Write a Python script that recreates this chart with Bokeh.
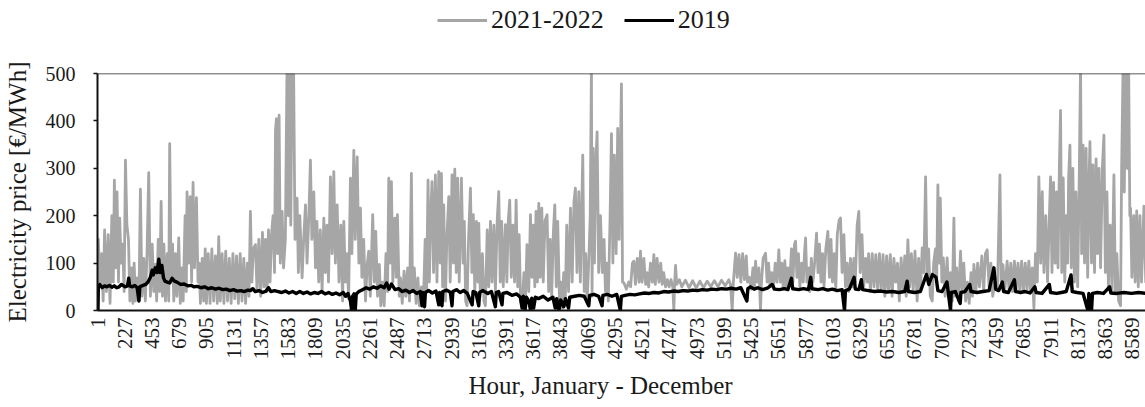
import math
from bokeh.plotting import figure
from bokeh.layouts import column
from bokeh.models import Range1d, FixedTicker, Legend, LegendItem, Span, Title
from bokeh.embed import file_html
from bokeh.resources import INLINE

# ---------------- data ----------------
x_ticks = [1, 227, 453, 679, 905, 1131, 1357, 1583, 1809, 2035, 2261, 2487, 2713,
           2939, 3165, 3391, 3617, 3843, 4069, 4295, 4521, 4747, 4973, 5199, 5425,
           5651, 5877, 6103, 6329, 6555, 6781, 7007, 7233, 7459, 7685, 7911, 8137,
           8363, 8589]
y_ticks = [0, 100, 200, 300, 400, 500]
series_names = ["2021-2022", "2019"]

# 2021-2022 hourly price (hour, EUR/MWh), estimated peaks and troughs
price_2021_2022 = [
    (1, 30), (8, 150), (20, 60), (35, 120), (48, 20), (60, 170), (75, 40), (90, 160), (105, 15),
    (120, 200), (132, 60), (141, 275), (152, 90), (163, 250), (175, 60), (185, 195), (197, 100),
    (210, 140), (222, 40), (233, 317), (245, 180), (258, 150), (270, 20), (283, 90), (295, 15),
    (305, 100), (316, 20), (330, 69), (345, 20), (357, 256), (370, 30), (385, 110), (398, 20),
    (412, 120), (426, 291), (440, 30), (455, 140), (468, 40), (480, 97), (492, 20), (505, 150),
    (517, 40), (529, 230), (540, 30), (552, 140), (565, 20), (580, 120), (592, 20), (600, 352),
    (612, 60), (624, 140), (634, 20), (648, 120), (660, 30), (675, 153), (688, 15), (700, 90),
    (712, 20), (728, 200), (738, 40), (744, 250), (756, 100), (770, 240), (782, 60), (794, 270),
    (806, 90), (822, 238), (835, 60), (845, 100), (855, 15), (870, 110), (882, 20), (895, 130),
    (905, 15), (920, 120), (935, 15), (950, 130), (965, 20), (980, 115), (995, 15), (1007, 156),
    (1020, 20), (1035, 120), (1050, 15), (1065, 125), (1080, 20), (1095, 110), (1110, 15),
    (1125, 120), (1140, 25), (1155, 115), (1170, 15), (1185, 120), (1200, 20), (1215, 110),
    (1230, 15), (1245, 100), (1258, 30), (1270, 209), (1282, 60), (1295, 130), (1312, 139),
    (1325, 40), (1340, 150), (1355, 30), (1370, 165), (1383, 50), (1395, 150), (1408, 40),
    (1420, 170), (1433, 60), (1445, 160), (1458, 200), (1470, 80), (1478, 380), (1486, 405),
    (1495, 120), (1508, 412), (1518, 100), (1533, 209), (1545, 90), (1560, 150), (1574, 520),
    (1585, 200), (1595, 520), (1605, 180), (1615, 520), (1628, 520), (1640, 150), (1657, 237),
    (1668, 80), (1680, 200), (1699, 69), (1712, 150), (1727, 223), (1740, 100), (1755, 200),
    (1768, 317), (1780, 150), (1796, 250), (1810, 90), (1822, 188), (1837, 60), (1850, 170),
    (1865, 40), (1879, 195), (1892, 80), (1905, 180), (1918, 60), (1934, 282), (1948, 120),
    (1962, 293), (1975, 100), (1990, 223), (2005, 60), (2020, 180), (2035, 20), (2045, 188),
    (2058, 60), (2072, 120), (2085, 25), (2100, 279), (2112, 120), (2128, 338), (2140, 150),
    (2156, 324), (2170, 100), (2183, 216), (2195, 70), (2210, 150), (2225, 20), (2240, 100),
    (2252, 125), (2265, 30), (2285, 202), (2298, 60), (2310, 167), (2325, 30), (2340, 97),
    (2352, 10), (2365, 60), (2380, 10), (2395, 120), (2408, 40), (2418, 279), (2430, 100),
    (2440, 272), (2452, 60), (2468, 195), (2480, 70), (2490, 202), (2505, 30), (2515, 69),
    (2530, 15), (2545, 83), (2560, 30), (2575, 90), (2590, 20), (2606, 289), (2615, 40),
    (2630, 90), (2645, 15), (2660, 69), (2672, 10), (2690, 50), (2705, 10), (2720, 150),
    (2732, 40), (2744, 275), (2755, 60), (2766, 200), (2777, 272), (2790, 80), (2805, 286),
    (2818, 60), (2833, 293), (2845, 100), (2855, 289), (2865, 50), (2874, 223), (2888, 20),
    (2900, 150), (2916, 240), (2928, 60), (2943, 286), (2955, 100), (2966, 298), (2978, 80),
    (2990, 279), (3003, 60), (3021, 279), (3035, 100), (3045, 188), (3056, 20), (3068, 10),
    (3080, 150), (3096, 258), (3108, 80), (3120, 202), (3132, 40), (3145, 188), (3158, 60),
    (3165, 184), (3178, 30), (3195, 120), (3208, 20), (3220, 10), (3235, 170), (3248, 50),
    (3262, 188), (3275, 60), (3290, 180), (3303, 40), (3318, 190), (3331, 251), (3343, 60),
    (3355, 188), (3368, 50), (3386, 181), (3398, 60), (3410, 190), (3422, 233), (3435, 70),
    (3448, 180), (3462, 60), (3475, 233), (3488, 50), (3500, 160), (3512, 20), (3525, 5),
    (3540, 80), (3553, 20), (3565, 139), (3580, 40), (3594, 202), (3606, 70), (3618, 180),
    (3630, 50), (3640, 209), (3652, 60), (3663, 226), (3675, 70), (3688, 216), (3700, 60),
    (3715, 190), (3732, 202), (3745, 40), (3758, 150), (3770, 30), (3785, 170), (3796, 223),
    (3808, 50), (3820, 188), (3835, 20), (3845, 60), (3856, 5), (3870, 80), (3882, 10),
    (3895, 180), (3910, 40), (3926, 216), (3940, 60), (3955, 230), (3967, 258), (3980, 80),
    (3995, 251), (4008, 60), (4028, 328), (4040, 40), (4052, 120), (4064, 15), (4080, 120),
    (4090, 200), (4100, 520), (4105, 30), (4115, 342), (4125, 100), (4135, 300), (4147, 377),
    (4160, 80), (4175, 200), (4190, 80), (4205, 150), (4216, 40), (4228, 100), (4240, 20),
    (4255, 200), (4266, 373), (4278, 100), (4290, 328), (4305, 120), (4318, 384), (4330, 150),
    (4338, 300), (4349, 478), (4358, 60), (4370, 58), (4390, 45), (4410, 60), (4425, 50),
    (4440, 100), (4452, 104), (4465, 55), (4480, 110), (4495, 60), (4507, 125), (4520, 60),
    (4535, 110), (4550, 55), (4562, 80), (4575, 50), (4590, 100), (4605, 60), (4618, 118),
    (4630, 55), (4645, 110), (4660, 60), (4675, 100), (4687, 55), (4700, 80), (4715, 50),
    (4730, 65), (4745, 50), (4760, 65), (4775, 50), (4784, 0), (4790, 55), (4798, 95),
    (4808, 55), (4830, 65), (4850, 50), (4880, 64), (4910, 48), (4940, 63), (4970, 47),
    (5000, 62), (5030, 48), (5060, 62), (5090, 50), (5120, 63), (5150, 50), (5180, 64),
    (5210, 52), (5240, 65), (5254, 55), (5268, 0), (5278, 60), (5296, 121), (5310, 70),
    (5325, 118), (5340, 60), (5355, 120), (5370, 65), (5385, 115), (5395, 60), (5410, 70),
    (5425, 45), (5440, 90), (5452, 50), (5462, 104), (5475, 60), (5490, 90), (5503, 0),
    (5510, 55), (5525, 110), (5545, 121), (5558, 60), (5570, 100), (5582, 50), (5595, 80),
    (5610, 45), (5625, 100), (5640, 60), (5655, 128), (5668, 60), (5680, 100), (5692, 45),
    (5705, 105), (5718, 50), (5730, 90), (5745, 55), (5760, 130), (5772, 60), (5785, 140),
    (5794, 146), (5805, 70), (5818, 120), (5830, 50), (5845, 100), (5858, 60), (5868, 120),
    (5877, 153), (5888, 60), (5900, 90), (5912, 40), (5925, 110), (5938, 60), (5952, 100),
    (5968, 163), (5980, 80), (5992, 140), (6005, 60), (6018, 120), (6030, 50), (6045, 130),
    (6062, 167), (6075, 70), (6088, 150), (6100, 60), (6115, 120), (6128, 45), (6140, 160),
    (6155, 190), (6167, 195), (6180, 80), (6195, 160), (6208, 50), (6222, 100), (6235, 40),
    (6250, 110), (6265, 50), (6278, 110), (6290, 60), (6305, 180), (6319, 209), (6330, 80),
    (6345, 160), (6360, 50), (6375, 110), (6389, 60), (6400, 120), (6415, 40), (6430, 120),
    (6445, 50), (6460, 118), (6475, 45), (6490, 120), (6505, 40), (6520, 118), (6535, 30),
    (6550, 115), (6565, 40), (6580, 118), (6595, 30), (6610, 110), (6625, 60), (6640, 100),
    (6655, 20), (6670, 111), (6685, 40), (6700, 115), (6712, 30), (6726, 149), (6740, 50),
    (6755, 120), (6770, 40), (6785, 125), (6803, 20), (6815, 110), (6830, 40), (6845, 132),
    (6858, 80), (6873, 282), (6885, 80), (6898, 130), (6912, 30), (6928, 20), (6940, 100),
    (6955, 130), (6965, 60), (6975, 265), (6985, 100), (6995, 237), (7008, 60), (7020, 111),
    (7035, 30), (7052, 111), (7065, 30), (7080, 80), (7095, 20), (7108, 195), (7118, 30),
    (7130, 90), (7145, 20), (7163, 125), (7175, 40), (7190, 100), (7205, 20), (7220, 60),
    (7235, 15), (7250, 80), (7262, 30), (7274, 97), (7290, 40), (7305, 100), (7320, 50),
    (7340, 115), (7355, 40), (7370, 120), (7384, 128), (7400, 50), (7415, 100), (7430, 30),
    (7454, 69), (7470, 50), (7490, 286), (7500, 60), (7515, 97), (7530, 40), (7550, 104),
    (7565, 45), (7580, 100), (7595, 40), (7610, 104), (7625, 45), (7640, 100), (7655, 40),
    (7670, 104), (7685, 40), (7700, 100), (7715, 45), (7730, 104), (7744, 40), (7758, 90),
    (7772, 5), (7785, 120), (7800, 60), (7813, 282), (7828, 100), (7841, 251), (7855, 80),
    (7870, 200), (7885, 60), (7898, 180), (7910, 282), (7922, 80), (7935, 270), (7948, 100),
    (7960, 250), (7972, 90), (7983, 300), (7993, 422), (8003, 80), (8015, 280), (8028, 60),
    (8040, 200), (8052, 100), (8060, 280), (8071, 349), (8082, 90), (8095, 300), (8108, 60),
    (8120, 250), (8135, 50), (8148, 280), (8159, 520), (8168, 120), (8180, 349), (8192, 100),
    (8205, 342), (8218, 70), (8230, 280), (8237, 356), (8250, 100), (8262, 307), (8275, 80),
    (8288, 320), (8300, 120), (8312, 300), (8325, 90), (8340, 300), (8353, 370), (8365, 80),
    (8378, 250), (8390, 50), (8405, 180), (8420, 40), (8436, 286), (8448, 40), (8460, 120),
    (8475, 20), (8491, 10), (8500, 300), (8512, 520), (8522, 250), (8533, 520), (8545, 300),
    (8558, 520), (8568, 200), (8574, 216), (8585, 70), (8600, 200), (8612, 60), (8625, 210),
    (8638, 50), (8652, 200), (8665, 60), (8685, 220), (8700, 60), (8720, 200), (8740, 60),
    (8760, 150),
]

# 2019 hourly price (hour, EUR/MWh), estimated
price_2019 = [
    (1, 0), (5, 0), (8, 50), (20, 55), (40, 48), (60, 52), (80, 50), (100, 53), (120, 49),
    (140, 52), (160, 48), (180, 50), (200, 55), (230, 50), (250, 52), (260, 68), (268, 52),
    (290, 50), (310, 53), (330, 48), (345, 20), (352, 50), (370, 52), (400, 55), (420, 60),
    (440, 70), (455, 85), (465, 75), (480, 90), (495, 80), (510, 108), (520, 80), (535, 95),
    (548, 70), (560, 62), (580, 60), (600, 58), (620, 68), (640, 62), (660, 60), (690, 55),
    (720, 56), (750, 52), (780, 53), (800, 50), (830, 51), (860, 48), (890, 50), (920, 46),
    (950, 48), (980, 45), (1010, 47), (1040, 44), (1070, 45), (1100, 42), (1130, 44),
    (1160, 41), (1190, 42), (1220, 40), (1250, 43), (1270, 42), (1290, 46), (1310, 40),
    (1340, 42), (1370, 38), (1400, 41), (1420, 48), (1440, 40), (1470, 42), (1500, 40),
    (1530, 38), (1560, 41), (1590, 37), (1620, 40), (1650, 36), (1680, 40), (1710, 36),
    (1740, 39), (1770, 35), (1800, 38), (1830, 36), (1860, 40), (1890, 35), (1920, 38),
    (1950, 34), (1980, 37), (2010, 33), (2040, 38), (2060, 30), (2080, 36), (2100, 20),
    (2110, 0), (2118, 30), (2130, 35), (2140, 0), (2148, 35), (2170, 40), (2200, 44),
    (2230, 48), (2260, 45), (2290, 50), (2320, 47), (2350, 52), (2380, 48), (2400, 58),
    (2420, 45), (2440, 56), (2470, 44), (2500, 46), (2530, 40), (2560, 43), (2590, 38),
    (2620, 42), (2650, 36), (2680, 40), (2694, 10), (2700, 38), (2715, 8), (2722, 38),
    (2750, 42), (2780, 37), (2810, 41), (2833, 12), (2840, 38), (2860, 10), (2866, 40),
    (2900, 43), (2930, 38), (2943, 10), (2950, 40), (2980, 44), (3010, 38), (3040, 42),
    (3070, 36), (3110, 12), (3118, 40), (3140, 38), (3165, 10), (3172, 38), (3200, 42),
    (3240, 36), (3270, 40), (3303, 8), (3310, 38), (3330, 40), (3358, 12), (3365, 36),
    (3400, 38), (3440, 32), (3480, 35), (3510, 28), (3525, 5), (3535, 30), (3550, 2),
    (3560, 28), (3580, 20), (3595, 0), (3605, 26), (3620, 5), (3635, 28), (3660, 25),
    (3700, 30), (3740, 22), (3780, 28), (3800, 5), (3812, 25), (3830, 0), (3845, 22),
    (3870, 8), (3885, 25), (3910, 5), (3920, 28), (3960, 30), (4000, 32), (4040, 30),
    (4078, 10), (4085, 32), (4120, 34), (4160, 30), (4188, 10), (4195, 32), (4230, 34),
    (4270, 30), (4310, 34), (4340, 0), (4348, 30), (4380, 32), (4420, 34), (4460, 33),
    (4500, 35), (4540, 37), (4580, 36), (4620, 38), (4660, 37), (4700, 40), (4740, 39),
    (4780, 41), (4820, 40), (4860, 42), (4900, 41), (4940, 43), (4980, 42), (5020, 44),
    (5060, 43), (5100, 45), (5140, 44), (5180, 46), (5220, 45), (5260, 47), (5300, 45),
    (5340, 48), (5390, 20), (5398, 46), (5420, 50), (5450, 45), (5480, 48), (5520, 44),
    (5560, 47), (5600, 55), (5620, 45), (5660, 44), (5700, 46), (5730, 44), (5760, 68),
    (5770, 46), (5820, 44), (5860, 46), (5900, 44), (5920, 70), (5930, 46), (5980, 44),
    (6020, 46), (6060, 43), (6100, 45), (6140, 42), (6180, 44), (6200, 0), (6208, 42),
    (6240, 45), (6280, 70), (6290, 45), (6320, 44), (6340, 65), (6350, 44), (6400, 42),
    (6450, 40), (6500, 41), (6550, 39), (6600, 40), (6650, 38), (6700, 40), (6720, 62),
    (6730, 40), (6780, 38), (6830, 40), (6880, 76), (6900, 55), (6930, 76), (6960, 70),
    (6975, 42), (7010, 40), (7050, 60), (7060, 40), (7080, 0), (7086, 38), (7120, 40),
    (7160, 15), (7166, 38), (7200, 40), (7240, 55), (7250, 40), (7300, 38), (7350, 40),
    (7400, 42), (7440, 90), (7455, 45), (7480, 42), (7510, 60), (7520, 40), (7560, 38),
    (7610, 65), (7620, 40), (7660, 38), (7700, 40), (7740, 37), (7780, 50), (7790, 38),
    (7840, 36), (7900, 55), (7910, 38), (7960, 36), (8000, 38), (8040, 40), (8080, 75),
    (8090, 40), (8130, 38), (8180, 36), (8220, 0), (8228, 36), (8250, 0), (8258, 36),
    (8300, 38), (8350, 36), (8400, 50), (8410, 37), (8460, 36), (8520, 38), (8580, 36),
    (8640, 38), (8700, 36), (8760, 37),
]

SERIF = "Liberation Serif"
GRAY = "#a6a6a6"
TXT = "#1a1a1a"

h21 = [h for h, v in price_2021_2022]
v21 = [v for h, v in price_2021_2022]
h19 = [h for h, v in price_2019]
v19 = [v for h, v in price_2019]

W = 1145

# ---------------- legend strip ----------------
pl = figure(width=W, height=45, output_backend="svg", toolbar_location=None,
            x_range=Range1d(0, 1), y_range=Range1d(0, 1),
            x_axis_type=None, y_axis_type=None, min_border=0)
pl.outline_line_color = None
pl.xgrid.visible = False
pl.ygrid.visible = False
# renderers that only carry the legend glyph style (their points lie outside the view)
lg21 = pl.line([5, 6], [5, 6], line_color=GRAY, line_width=3)
lg19 = pl.line([5, 6], [5, 6], line_color="#000000", line_width=3)
legend = Legend(items=[LegendItem(label=series_names[0], renderers=[lg21]),
                       LegendItem(label=series_names[1], renderers=[lg19])],
                orientation="horizontal", location=(340, 10),
                label_text_font=SERIF, label_text_font_size="26px",
                label_text_color=TXT, label_height=24,
                glyph_width=50, glyph_height=24, label_standoff=4, spacing=20,
                padding=0, margin=0, border_line_color=None,
                background_fill_alpha=0)
pl.add_layout(legend)

# ---------------- main chart ----------------
p = figure(width=W, height=362, output_backend="svg", toolbar_location=None,
           x_range=Range1d(1, 8698), y_range=Range1d(0, 500),
           min_border_left=97, min_border_right=0, min_border_top=28, min_border_bottom=97)
p.outline_line_color = None
p.xgrid.visible = False
p.ygrid.visible = False

r21 = p.line(h21, v21, line_color=GRAY, line_width=2.8, line_join="round")
r19 = p.line(h19, v19, line_color="#000000", line_width=3.4, line_join="round")

top = Span(location=500, dimension="width", line_color="#222222", line_width=1.5)
p.add_layout(top)

p.xaxis.ticker = FixedTicker(ticks=x_ticks)
p.xaxis.major_label_orientation = math.pi / 2
p.xaxis.major_label_text_font = SERIF
p.xaxis.major_label_text_font_size = "21px"
p.xaxis.major_label_text_color = TXT
p.xaxis.major_label_standoff = 7
p.xaxis.axis_line_color = "#111111"
p.xaxis.axis_line_width = 2
p.xaxis.major_tick_in = 0
p.xaxis.major_tick_out = 0
p.xaxis.minor_tick_line_color = None

xtitle = Title(text="Hour, January - December", align="left", offset=371,
               text_font=SERIF, text_font_size="25px", text_font_style="normal",
               text_color=TXT, standoff=14)
p.add_layout(xtitle, "below")

p.yaxis.ticker = FixedTicker(ticks=y_ticks)
p.yaxis.major_label_text_font = SERIF
p.yaxis.major_label_text_font_size = "20px"
p.yaxis.major_label_text_color = TXT
p.yaxis.major_label_standoff = 18
p.yaxis.axis_label = "Electricity price [\u20ac/MWh]"
p.yaxis.axis_label_text_font = SERIF
p.yaxis.axis_label_text_font_size = "25px"
p.yaxis.axis_label_text_font_style = "normal"
p.yaxis.axis_label_text_color = TXT
p.yaxis.axis_label_standoff = 12
p.yaxis.axis_line_color = "#111111"
p.yaxis.axis_line_width = 2
p.yaxis.major_tick_in = 0
p.yaxis.major_tick_out = 4
p.yaxis.major_tick_line_color = "#111111"
p.yaxis.major_tick_line_width = 1.5
p.yaxis.minor_tick_line_color = None

open("out.html", "w").write(file_html(column(pl, p), INLINE))
